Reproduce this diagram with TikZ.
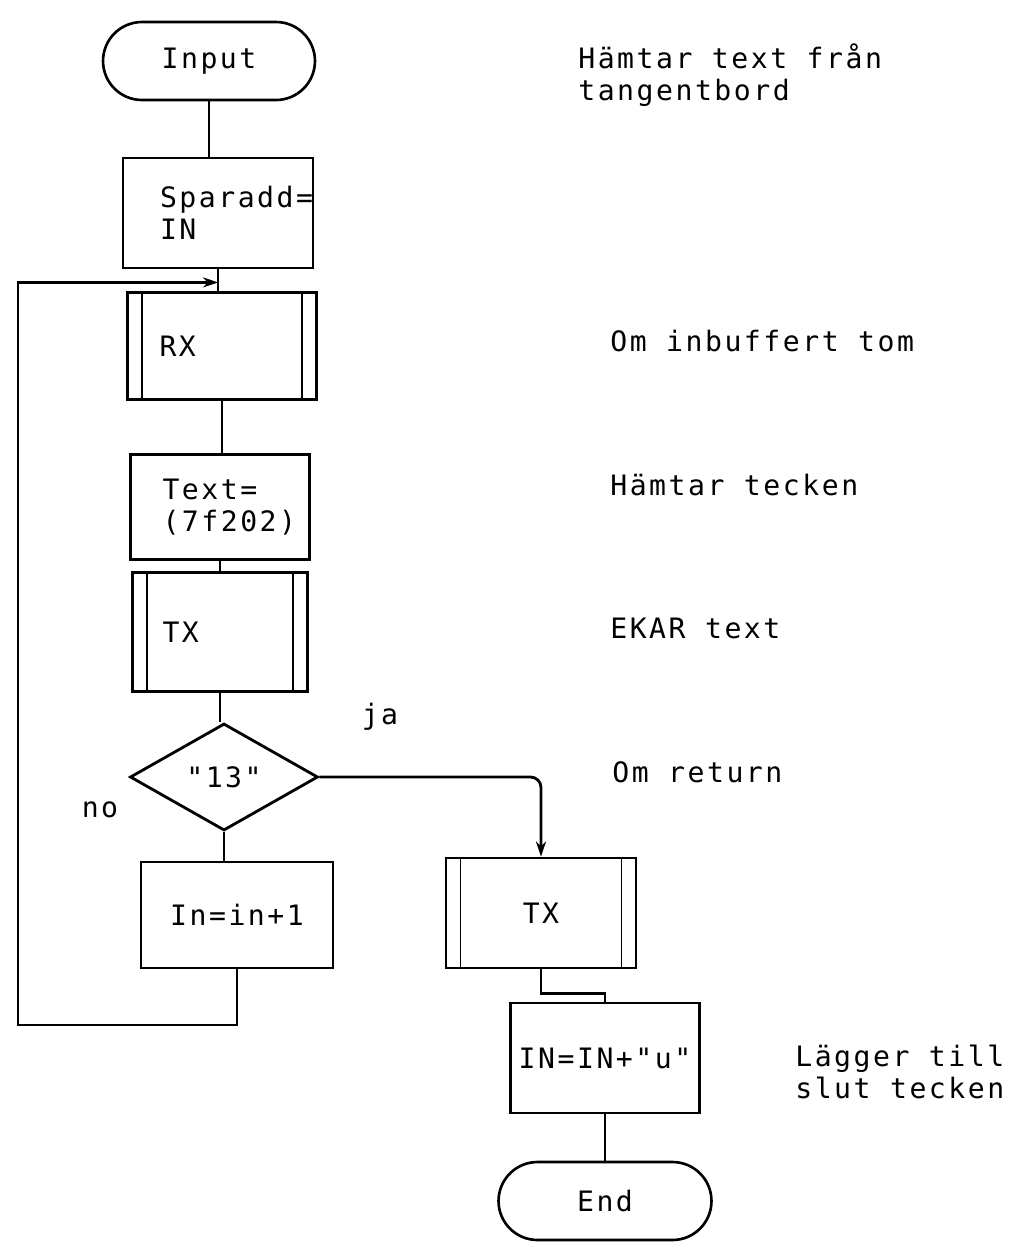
\documentclass[tikz,border=0pt]{standalone}
\usepackage{fontspec}
\setmonofont[LetterSpace=9]{DejaVu Sans Mono}
\usepackage{tikz}
\usetikzlibrary{shapes.geometric,arrows.meta,positioning,calc}

\begin{document}
\begin{tikzpicture}[
  x=0.02cm, y=-0.02cm,
  font=\ttfamily\fontsize{16}{18.5}\selectfont,
  every node/.append style={align=left},
  box/.style={rectangle, draw, line width=1.6pt, inner ysep=2pt},
  sub/.style={box, path picture={
      \draw[line width=1pt]
        ([xshift=0.29cm]path picture bounding box.north west) -- ([xshift=0.29cm]path picture bounding box.south west)
        ([xshift=-0.29cm]path picture bounding box.north east) -- ([xshift=-0.29cm]path picture bounding box.south east);}},
  term/.style={rectangle, draw, line width=1.5pt, rounded corners=0.78cm, minimum height=1.56cm},
  dec/.style={diamond, draw, line width=1.6pt, aspect=1.76, minimum width=3.76cm, minimum height=2.14cm, inner sep=0pt},
  arr/.style={-{Stealth[length=3mm, width=2mm]}, line width=1.6pt},
  ln/.style={line width=1.6pt},
  note/.style={anchor=west, inner sep=0pt}
]
\useasboundingbox (0,0) rectangle (1014,1248);

% main column
\node[term, minimum width=4.24cm] (input) at (209,61) {Input};
\node[box, minimum width=3.8cm, minimum height=2.2cm, inner xsep=0.74cm, text width=2.32cm] (spar) at (218,213) {Sparadd=\\IN};
\node[sub, minimum width=3.78cm, minimum height=2.14cm, inner xsep=0.64cm, text width=2.5cm] (rx) at (222,346) {RX};
\node[box, minimum width=3.58cm, minimum height=2.1cm, inner xsep=0.64cm, text width=2.3cm] (txt) at (220,507) {Text=\\(7f202)};
\node[sub, minimum width=3.5cm, minimum height=2.38cm, inner xsep=0.6cm, text width=2.3cm] (tx) at (220,632) {TX};
\node[dec] (ret) at (224,777) {"13"};
\node[box, minimum width=3.84cm, minimum height=2.12cm] (inc) at (237,915) {In=in+1};

% ja branch
\node[sub, minimum width=3.8cm, minimum height=2.2cm] (txb) at (541,913) {TX};
\node[box, minimum width=3.78cm, minimum height=2.2cm, inner xsep=2pt] (ins) at (605,1058) {IN=IN+"u"};
\node[term, minimum width=4.26cm] (stop) at (605,1201) {End};

\node (ja) at (380,717) {ja};
\node (no) at (100,810) {no};

% notes
\node[note] (n1) at (578,75) {Hämtar text från\\tangentbord};
\node[note] (n2) at (610,341) {Om inbuffert tom};
\node[note] (n3) at (610,485) {Hämtar tecken};
\node[note] (n4) at (610,628) {EKAR text};
\node[note] (n5) at (612,772) {Om return};
\node[note] (n6) at (795,1072) {Lägger till\\slut tecken};

% connectors
\draw[ln] (input.south) -- (input.south |- spar.north);
\draw[ln] (spar.south) -- (spar.south |- rx.north);
\draw[ln] (rx.south) -- (rx.south |- txt.north);
\draw[ln] (txt.south) -- (txt.south |- tx.north);
\draw[ln] (tx.south) -- (tx.south |- ret.north);
\draw[ln] (ret.south) -- (ret.south |- inc.north);
\coordinate (back) at ($(spar.south)!0.6!(spar.south |- rx.north)$);
\coordinate (lb) at (18,1025);
\draw[arr] (inc.south) |- (lb) |- (back);
\draw[arr, rounded corners=6pt] (ret.east) -| (txb.north);
\draw[ln] (txb.south) -- ++(0,24) -| (ins.north);
\draw[ln] (ins.south) -- (stop.north);
\end{tikzpicture}
\end{document}
